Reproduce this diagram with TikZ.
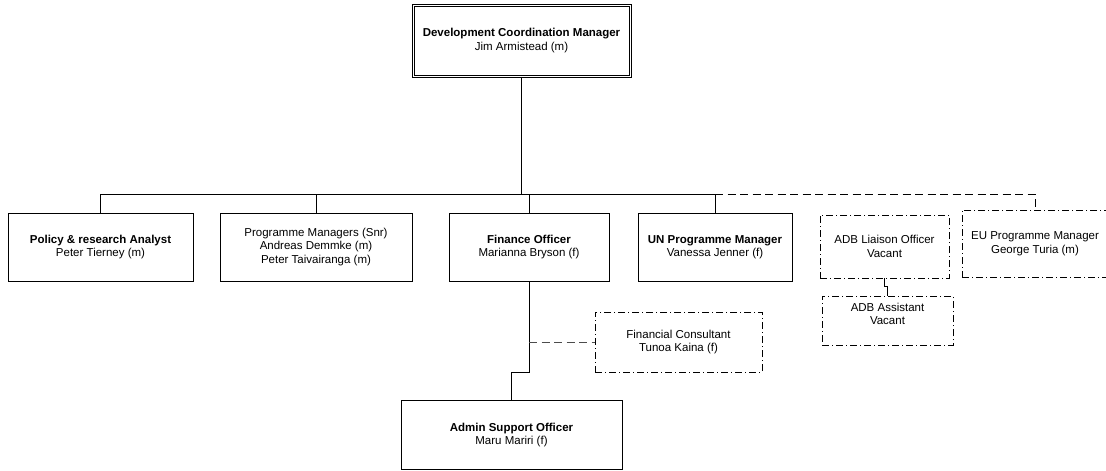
\documentclass[tikz,border=0pt]{standalone}
\usepackage{fontspec}
\setmainfont{Liberation Sans}
\begin{document}
\begin{tikzpicture}[x=1pt,y=-1pt,
  every node/.style={font=\fontsize{11.5}{13.5}\selectfont, align=center, inner sep=0pt, outer sep=0pt},
  post/.style={draw, line width=0.9pt, minimum width=#1},
  vacancy/.style={draw, line width=0.9pt, minimum width=#1,
    dash pattern=on 7pt off 3pt on 1pt off 3pt},
  link/.style={line width=0.9pt},
  dotted link/.style={line width=0.9pt, dash pattern=on 8pt off 4.5pt},
]
\useasboundingbox (0,0) rectangle (1106,471);

% head of the unit, framed by a double rule
\node[draw, line width=0.8pt, minimum width=215pt, minimum height=69pt] (top) at (521.5,40.5)
  {\textbf{Development Coordination Manager}\\Jim Armistead (m)};
\draw[line width=0.8pt] ([shift={(-2,2)}]top.south west) rectangle ([shift={(2,-2)}]top.north east);

% first tier
\node[post=185pt, minimum height=68pt] (policy) at (100.5,247)
  {\textbf{Policy \& research Analyst}\\Peter Tierney (m)};
\node[post=192pt, minimum height=68pt] (pm) at (316,247)
  {Programme Managers (Snr)\\Andreas Demmke (m)\\Peter Taivairanga (m)};
\node[post=160pt, minimum height=68pt] (fin) at (529,247)
  {\textbf{Finance Officer}\\Marianna Bryson (f)};
\node[post=154pt, minimum height=68pt] (un) at (715,247)
  {\textbf{UN Programme Manager}\\Vanessa Jenner (f)};
\node[vacancy=129pt, minimum height=63pt] (adbl) at (884.5,246.5)
  {ADB Liaison Officer\\Vacant};
\node[vacancy=146pt, minimum height=67pt] (eu) at (1035,243.5)
  {EU Programme Manager\\George Turia (m)};

% lower tier
\node[vacancy=131pt, minimum height=49pt] (adba) at (887.5,320.5)
  {ADB Assistant\\Vacant\\~};
\node[vacancy=167pt, minimum height=60pt] (fc) at (678.5,342)
  {Financial Consultant\\Tunoa Kaina (f)};
\node[post=221pt, minimum height=69pt] (admin) at (511.5,435)
  {\textbf{Admin Support Officer}\\Maru Mariri (f)};

% reporting lines
\coordinate (bus) at (0,194);
\coordinate (jog) at (0,372);
\draw[link] (top.south) ++(0,2) -- (top.south |- bus);
\draw[link] (policy.north) -- (policy.north |- bus) -- (un.north |- bus) -- (un.north);
\draw[link] (pm.north) -- (pm.north |- bus);
\draw[link] (fin.north) -- (fin.north |- bus);
\draw[dotted link] (un.north |- bus) -| (eu.north);
\draw[link] (fin.south) -- (fin.south |- jog) -| (admin.north);
\draw[dotted link, draw=black!70] (fin.south |- fc.west) -- (fc.west);
\draw[link] (adbl.south) -- ++(0,8) -| (adba.north);
\end{tikzpicture}
\end{document}
